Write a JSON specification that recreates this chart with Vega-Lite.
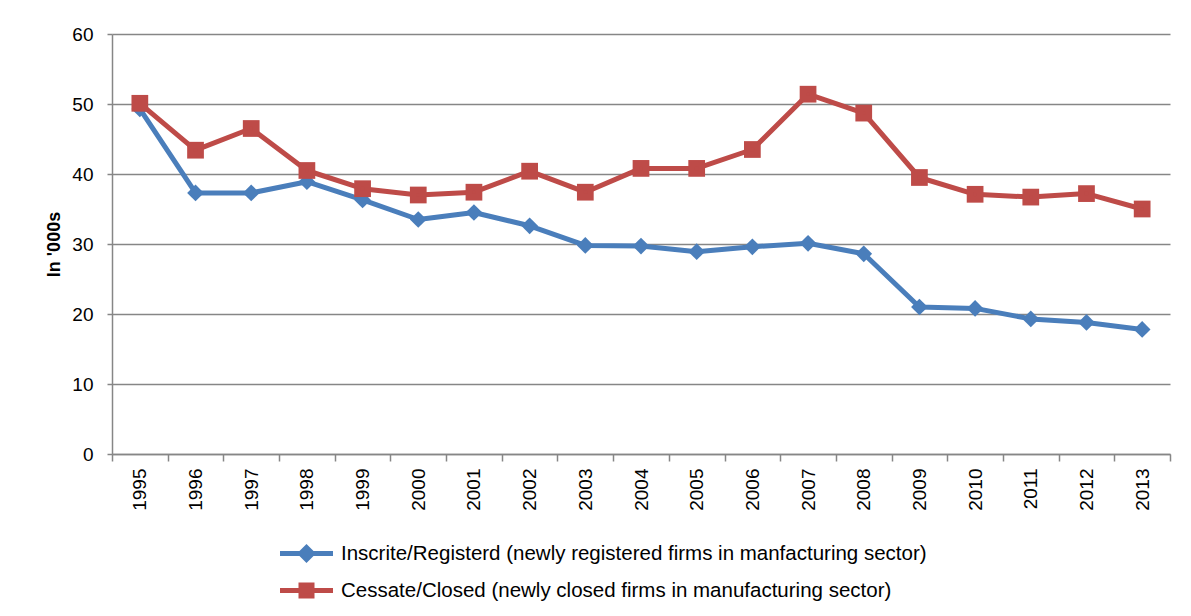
{
  "$schema": "https://vega.github.io/schema/vega-lite/v6.json",
  "autosize": {"type": "none"},
  "padding": {"left": 112, "top": 34, "right": 21, "bottom": 162},
  "width": 1058,
  "height": 420,
  "background": "white",
  "config": {
    "view": {"stroke": null},
    "font": "Liberation Sans"
  },
  "data": {
    "values": [
      {"year": "1995", "series": "Inscrite/Registerd (newly registered firms in manfacturing sector)", "value": 49.3},
      {"year": "1996", "series": "Inscrite/Registerd (newly registered firms in manfacturing sector)", "value": 37.3},
      {"year": "1997", "series": "Inscrite/Registerd (newly registered firms in manfacturing sector)", "value": 37.3},
      {"year": "1998", "series": "Inscrite/Registerd (newly registered firms in manfacturing sector)", "value": 38.9},
      {"year": "1999", "series": "Inscrite/Registerd (newly registered firms in manfacturing sector)", "value": 36.3},
      {"year": "2000", "series": "Inscrite/Registerd (newly registered firms in manfacturing sector)", "value": 33.5},
      {"year": "2001", "series": "Inscrite/Registerd (newly registered firms in manfacturing sector)", "value": 34.5},
      {"year": "2002", "series": "Inscrite/Registerd (newly registered firms in manfacturing sector)", "value": 32.6},
      {"year": "2003", "series": "Inscrite/Registerd (newly registered firms in manfacturing sector)", "value": 29.8},
      {"year": "2004", "series": "Inscrite/Registerd (newly registered firms in manfacturing sector)", "value": 29.7},
      {"year": "2005", "series": "Inscrite/Registerd (newly registered firms in manfacturing sector)", "value": 28.9},
      {"year": "2006", "series": "Inscrite/Registerd (newly registered firms in manfacturing sector)", "value": 29.6},
      {"year": "2007", "series": "Inscrite/Registerd (newly registered firms in manfacturing sector)", "value": 30.1},
      {"year": "2008", "series": "Inscrite/Registerd (newly registered firms in manfacturing sector)", "value": 28.6},
      {"year": "2009", "series": "Inscrite/Registerd (newly registered firms in manfacturing sector)", "value": 21.0},
      {"year": "2010", "series": "Inscrite/Registerd (newly registered firms in manfacturing sector)", "value": 20.8},
      {"year": "2011", "series": "Inscrite/Registerd (newly registered firms in manfacturing sector)", "value": 19.3},
      {"year": "2012", "series": "Inscrite/Registerd (newly registered firms in manfacturing sector)", "value": 18.8},
      {"year": "2013", "series": "Inscrite/Registerd (newly registered firms in manfacturing sector)", "value": 17.8},
      {"year": "1995", "series": "Cessate/Closed (newly closed firms in manufacturing sector)", "value": 50.1},
      {"year": "1996", "series": "Cessate/Closed (newly closed firms in manufacturing sector)", "value": 43.4},
      {"year": "1997", "series": "Cessate/Closed (newly closed firms in manufacturing sector)", "value": 46.5},
      {"year": "1998", "series": "Cessate/Closed (newly closed firms in manufacturing sector)", "value": 40.5},
      {"year": "1999", "series": "Cessate/Closed (newly closed firms in manufacturing sector)", "value": 37.9},
      {"year": "2000", "series": "Cessate/Closed (newly closed firms in manufacturing sector)", "value": 37.0},
      {"year": "2001", "series": "Cessate/Closed (newly closed firms in manufacturing sector)", "value": 37.4},
      {"year": "2002", "series": "Cessate/Closed (newly closed firms in manufacturing sector)", "value": 40.4},
      {"year": "2003", "series": "Cessate/Closed (newly closed firms in manufacturing sector)", "value": 37.4},
      {"year": "2004", "series": "Cessate/Closed (newly closed firms in manufacturing sector)", "value": 40.8},
      {"year": "2005", "series": "Cessate/Closed (newly closed firms in manufacturing sector)", "value": 40.8},
      {"year": "2006", "series": "Cessate/Closed (newly closed firms in manufacturing sector)", "value": 43.5},
      {"year": "2007", "series": "Cessate/Closed (newly closed firms in manufacturing sector)", "value": 51.4},
      {"year": "2008", "series": "Cessate/Closed (newly closed firms in manufacturing sector)", "value": 48.7},
      {"year": "2009", "series": "Cessate/Closed (newly closed firms in manufacturing sector)", "value": 39.5},
      {"year": "2010", "series": "Cessate/Closed (newly closed firms in manufacturing sector)", "value": 37.1},
      {"year": "2011", "series": "Cessate/Closed (newly closed firms in manufacturing sector)", "value": 36.7},
      {"year": "2012", "series": "Cessate/Closed (newly closed firms in manufacturing sector)", "value": 37.2},
      {"year": "2013", "series": "Cessate/Closed (newly closed firms in manufacturing sector)", "value": 35.0}
    ]
  },
  "encoding": {
    "x": {
      "field": "year",
      "type": "ordinal",
      "scale": {"type": "band", "paddingInner": 0, "paddingOuter": 0},
      "axis": {
        "title": null,
        "labelAngle": -90,
        "labelFontSize": 19,
        "labelColor": "black",
        "labelPadding": 7,
        "tickBand": "extent",
        "tickSize": 7,
        "tickWidth": 1.5,
        "tickColor": "#868686",
        "domainColor": "#868686",
        "domainWidth": 1.5,
        "grid": false
      }
    },
    "y": {
      "field": "value",
      "type": "quantitative",
      "scale": {"domain": [0, 60], "nice": false},
      "axis": {
        "title": "In '000s",
        "titleFontSize": 18,
        "titleFontWeight": "bold",
        "titleColor": "black",
        "titlePadding": 8,
        "values": [0, 10, 20, 30, 40, 50, 60],
        "labelFontSize": 19,
        "labelColor": "black",
        "labelPadding": 14,
        "tickSize": 5,
        "tickWidth": 1.5,
        "tickColor": "#868686",
        "domainColor": "#868686",
        "domainWidth": 1.5,
        "grid": true,
        "gridColor": "#868686",
        "gridWidth": 1.5
      }
    },
    "color": {
      "field": "series",
      "type": "nominal",
      "scale": {
        "domain": ["Inscrite/Registerd (newly registered firms in manfacturing sector)", "Cessate/Closed (newly closed firms in manufacturing sector)"],
        "range": ["#4a7ebb", "#be4b48"]
      },
      "legend": {
        "title": null,
        "orient": "none",
        "legendX": 182,
        "legendY": 507,
        "direction": "vertical",
        "padding": 0,
        "rowPadding": 5,
        "symbolSize": 400,
        "symbolType": "M-2.65,0L2.65,0M0,-0.6L0.6,0L0,0.6L-0.6,0Z",
        "labelOffset": 22,
        "labelFontSize": 20.5,
        "labelColor": "black",
        "labelLimit": 1000,
        "encode": {
          "symbols": {
            "update": {
              "shape": {"signal": "datum.value === 'Inscrite/Registerd (newly registered firms in manfacturing sector)' ? 'M-2.65,0L2.65,0M0,-0.6L0.6,0L0,0.6L-0.6,0Z' : 'M-2.65,0L2.65,0M-0.55,-0.55L0.55,-0.55L0.55,0.55L-0.55,0.55Z'"},
              "fill": {"scale": "color", "field": "value"},
              "stroke": {"scale": "color", "field": "value"},
              "strokeWidth": {"value": 5},
              "opacity": {"value": 1},
              "fillOpacity": {"value": 1},
              "strokeOpacity": {"value": 1}
            }
          }
        }
      }
    }
  },
  "layer": [
    {
      "mark": {"type": "line", "strokeWidth": 5, "strokeJoin": "round"}
    },
    {
      "transform": [{"filter": "datum.series === 'Inscrite/Registerd (newly registered firms in manfacturing sector)'"}],
      "mark": {"type": "point", "shape": "diamond", "filled": true, "opacity": 1, "size": 280}
    },
    {
      "transform": [{"filter": "datum.series === 'Cessate/Closed (newly closed firms in manufacturing sector)'"}],
      "mark": {"type": "point", "shape": "square", "filled": true, "opacity": 1, "size": 280}
    },
    {
      "transform": [{"filter": "datum.series === 'Cessate/Closed (newly closed firms in manufacturing sector)'"}],
      "mark": {"type": "square", "filled": true, "opacity": 1, "color": "#e47a78", "size": 12}
    }
  ]
}
